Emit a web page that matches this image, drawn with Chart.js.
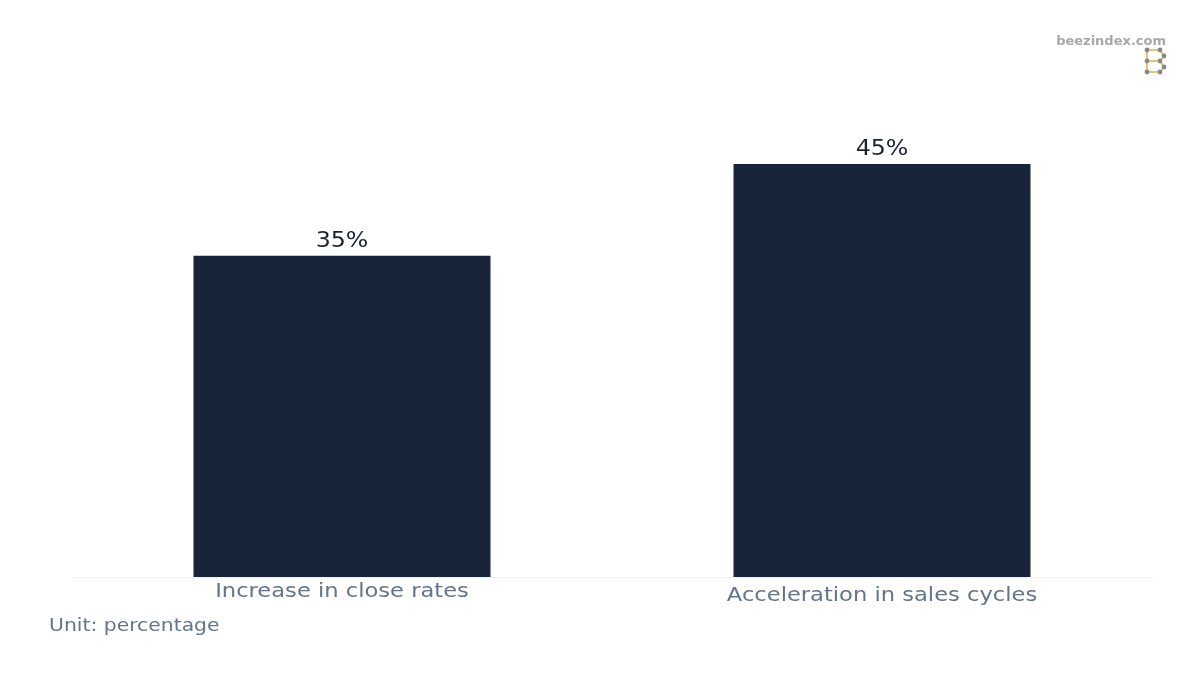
<!DOCTYPE html>
<html>
<head>
<meta charset="utf-8">
<title>Sales impact</title>
<script src="https://cdn.jsdelivr.net/npm/chart.js@4.4.1/dist/chart.umd.min.js"></script>
<style>
  html, body { margin: 0; padding: 0; background: #ffffff; }
  #wrap { width: 1200px; height: 675px; position: relative; }
</style>
</head>
<body>
<div id="wrap"><canvas id="chart"></canvas></div>
<script>
// data
const categories = ['Increase in close rates', 'Acceleration in sales cycles'];
const values = [35, 45];
const valueLabels = ['35%', '45%'];
const unitText = 'Unit: percentage';
const brandText = 'beezindex.com';

const barColor = '#17243a';
const labelColor = '#64748b';
const fontFamily = '"DejaVu Sans", Verdana, sans-serif';
const stretch = 1.13; // reference text is a little wider than the plain font

// draw text slightly stretched horizontally, anchored at x
function wideText(c, text, x, y, align) {
  c.save();
  c.translate(x, y);
  c.scale(stretch, 1);
  c.textAlign = align;
  c.fillText(text, 0, 0);
  c.restore();
}

// value labels above the bars, category labels under the axis
const labelPlugin = {
  id: 'barLabels',
  afterDatasetsDraw(chart) {
    const c = chart.ctx;
    const meta = chart.getDatasetMeta(0);
    const xs = chart.scales.x;
    c.save();
    c.textBaseline = 'alphabetic';
    c.font = '21px ' + fontFamily;
    c.fillStyle = '#1c2230';
    meta.data.forEach((bar, i) => {
      wideText(c, valueLabels[i], bar.x, bar.y - 9, 'center');
    });
    c.font = '20px ' + fontFamily;
    c.fillStyle = labelColor;
    categories.forEach((cat, i) => {
      // second label sits a few px lower in the reference
      wideText(c, cat, xs.getPixelForValue(i), xs.top + 20 + i * 4, 'center');
    });
    c.restore();
  }
};

// unit note + watermark
const notesPlugin = {
  id: 'notes',
  afterDraw(chart) {
    const c = chart.ctx;
    c.save();
    c.textBaseline = 'alphabetic';
    c.font = '18px ' + fontFamily;
    c.fillStyle = labelColor;
    wideText(c, unitText, 49, 631, 'left');

    c.font = 'bold 13px ' + fontFamily;
    c.fillStyle = '#a8a8a8';
    c.textAlign = 'right';
    c.fillText(brandText, 1166, 45);

    // small "B" logo
    const pts = [[1147, 50], [1160, 50], [1164, 56], [1160, 61], [1147, 61], [1160, 61], [1164, 67], [1160, 72], [1147, 72]];
    c.strokeStyle = '#e8c27a';
    c.lineWidth = 2;
    c.beginPath();
    c.moveTo(1147, 50); c.lineTo(1147, 72);
    pts.forEach((p, i) => i ? c.lineTo(p[0], p[1]) : c.moveTo(p[0], p[1]));
    c.stroke();
    c.fillStyle = '#888888';
    [[1147, 50], [1160, 50], [1164, 56], [1147, 61], [1160, 61], [1164, 67], [1147, 72], [1160, 72]].forEach(p => {
      c.beginPath(); c.arc(p[0], p[1], 2.4, 0, Math.PI * 2); c.fill();
    });
    c.restore();
  }
};

new Chart(document.getElementById('chart'), {
  type: 'bar',
  data: {
    labels: categories,
    datasets: [{
      data: values,
      backgroundColor: barColor,
      borderWidth: 0,
      categoryPercentage: 1.0,
      barPercentage: 0.55
    }]
  },
  options: {
    responsive: true,
    maintainAspectRatio: false,
    animation: false,
    layout: { padding: { left: 72, right: 48, top: 118, bottom: 98 } },
    plugins: {
      legend: { display: false },
      tooltip: { enabled: false }
    },
    scales: {
      x: {
        grid: { display: true, color: 'transparent', drawTicks: false },
        border: { display: true, color: '#f0f0f0', width: 1 },
        ticks: { display: false }
      },
      y: {
        display: false,
        min: 0,
        max: 50
      }
    }
  },
  plugins: [labelPlugin, notesPlugin]
});
</script>
</body>
</html>
